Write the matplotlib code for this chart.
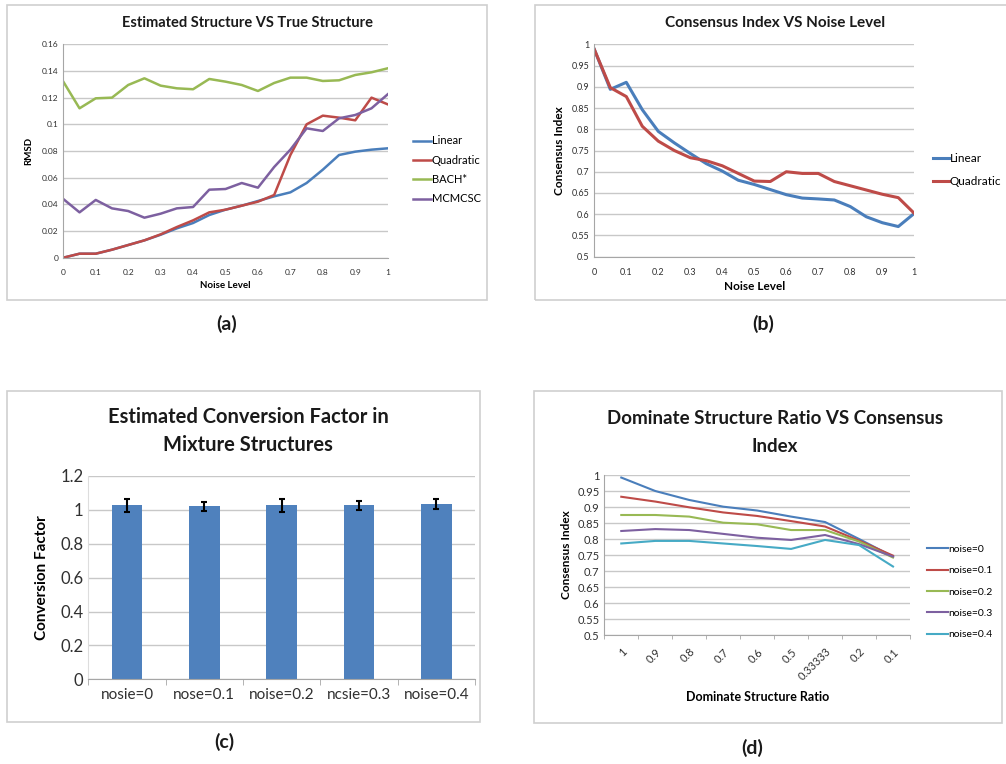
import matplotlib
matplotlib.use("Agg")
import matplotlib.pyplot as plt
from matplotlib.patches import Rectangle

plt.rcParams["font.family"] = ["Lato", "DejaVu Sans"]

# ---- data ----
noise = [0, 0.05, 0.1, 0.15, 0.2, 0.25, 0.3, 0.35, 0.4, 0.45, 0.5,
         0.55, 0.6, 0.65, 0.7, 0.75, 0.8, 0.85, 0.9, 0.95, 1.0]

rmsd_linear = [0, 0.003, 0.003, 0.006, 0.0095, 0.013, 0.0172, 0.022, 0.026, 0.032, 0.036,
               0.039, 0.0425, 0.046, 0.049, 0.056, 0.066, 0.077, 0.0795, 0.081, 0.082]
rmsd_quad = [0, 0.003, 0.003, 0.006, 0.0095, 0.013, 0.0175, 0.023, 0.028, 0.034, 0.036,
             0.039, 0.042, 0.047, 0.077, 0.1, 0.1065, 0.105, 0.103, 0.12, 0.115]
rmsd_bach = [0.132, 0.112, 0.1195, 0.120, 0.1295, 0.1345, 0.129, 0.127, 0.1263, 0.134, 0.132,
             0.1295, 0.125, 0.131, 0.135, 0.135, 0.1325, 0.133, 0.137, 0.139, 0.142]
rmsd_mcmcsc = [0.044, 0.034, 0.0433, 0.037, 0.035, 0.030, 0.033, 0.037, 0.038, 0.051, 0.0515,
               0.056, 0.0525, 0.068, 0.081, 0.097, 0.095, 0.1045, 0.107, 0.112, 0.1225]

ci_linear = [0.988, 0.894, 0.9105, 0.846, 0.795, 0.768, 0.743, 0.719, 0.7015, 0.680, 0.670,
             0.658, 0.646, 0.638, 0.636, 0.6335, 0.618, 0.594, 0.580, 0.571, 0.602]
ci_quad = [0.988, 0.898, 0.877, 0.807, 0.772, 0.750, 0.733, 0.726, 0.714, 0.696, 0.678,
           0.677, 0.700, 0.696, 0.696, 0.677, 0.667, 0.657, 0.647, 0.639, 0.602]

bar_labels = ["nosie=0", "nose=0.1", "noise=0.2", "ncsie=0.3", "noise=0.4"]
conv_factor = [1.027, 1.02, 1.027, 1.027, 1.035]
conv_err = [0.04, 0.027, 0.04, 0.025, 0.03]

ratio_labels = ["1", "0.9", "0.8", "0.7", "0.6", "0.5", "0.33333", "0.2", "0.1"]
d_noise0 = [0.992, 0.95, 0.922, 0.901, 0.889, 0.870, 0.853, 0.800, 0.745]
d_noise1 = [0.932, 0.917, 0.899, 0.883, 0.872, 0.856, 0.839, 0.795, 0.748]
d_noise2 = [0.875, 0.875, 0.870, 0.851, 0.846, 0.828, 0.828, 0.792, 0.742]
d_noise3 = [0.825, 0.831, 0.828, 0.816, 0.804, 0.797, 0.8125, 0.784, 0.745]
d_noise4 = [0.786, 0.794, 0.794, 0.786, 0.778, 0.769, 0.797, 0.781, 0.714]

BLUE = "#4A7EBB"
RED = "#BE4B48"
GREEN = "#98B954"
PURPLE = "#7D60A0"
CYAN = "#46AAC5"
GRID = "#C8C8C8"
TXT = "#303030"

W, H = 1006, 764
fig = plt.figure(figsize=(W / 100, H / 100), dpi=100)


def px_axes(x0, y0, x1, y1):
    return fig.add_axes([x0 / W, 1 - y1 / H, (x1 - x0) / W, (y1 - y0) / H])


def frame(x0, y0, x1, y1):
    fig.patches.append(Rectangle((x0 / W, 1 - y1 / H), (x1 - x0) / W, (y1 - y0) / H,
                                 transform=fig.transFigure, fill=False,
                                 edgecolor="#CFCFCF", lw=1.2))


def style(ax, tick_size):
    ax.yaxis.grid(True, color=GRID, lw=1)
    ax.set_axisbelow(True)
    for s in ["top", "right"]:
        ax.spines[s].set_visible(False)
    for s in ["left", "bottom"]:
        ax.spines[s].set_color("#A6A6A6")
    ax.tick_params(length=0, labelsize=tick_size, colors=TXT)


def fig_text(x, y, s, size, **kw):
    fig.text(x / W, 1 - y / H, s, fontsize=size, ha="center", va="center",
             fontweight="bold", color="#1A1A1A", **kw)


# ---- (a) ----
frame(7, 5, 487, 300)
ax = px_axes(63.3, 44.3, 387.7, 257.7)
ax.plot(noise, rmsd_linear, color=BLUE, lw=1.8, label="Linear")
ax.plot(noise, rmsd_quad, color=RED, lw=1.8, label="Quadratic")
ax.plot(noise, rmsd_bach, color=GREEN, lw=1.8, label="BACH*")
ax.plot(noise, rmsd_mcmcsc, color=PURPLE, lw=1.8, label="MCMCSC")
ax.set_xlim(0, 1)
ax.set_ylim(0, 0.16)
ax.set_xticks([i / 10 for i in range(11)])
ax.set_xticklabels(["0", "0.1", "0.2", "0.3", "0.4", "0.5", "0.6", "0.7", "0.8", "0.9", "1"])
ax.set_yticks([0, 0.02, 0.04, 0.06, 0.08, 0.1, 0.12, 0.14, 0.16])
ax.set_yticklabels(["0", "0.02", "0.04", "0.06", "0.08", "0.1", "0.12", "0.14", "0.16"])
style(ax, 6)
ax.tick_params(axis="x", pad=8)
ax.set_xlabel("Noise Level", fontsize=7, fontweight="bold", labelpad=4)
ax.set_ylabel("RMSD", fontsize=7, fontweight="bold", labelpad=6)
ax.legend(loc="center left", bbox_to_anchor=(403 / W, 1 - 170 / H),
          bbox_transform=fig.transFigure, frameon=False, fontsize=8,
          handlelength=1.6, handletextpad=0.1, labelspacing=0.75)
fig_text(248, 23, "Estimated Structure VS True Structure", 10.5)
fig_text(227, 324, "(a)", 14)

# ---- (b) ----
frame(535, 5, 1010, 300)
ax = px_axes(594.3, 44.3, 914.3, 256.7)
ax.plot(noise, ci_linear, color=BLUE, lw=2.2, label="Linear")
ax.plot(noise, ci_quad, color=RED, lw=2.2, label="Quadratic")
ax.set_xlim(0, 1)
ax.set_ylim(0.5, 1)
ax.set_xticks([i / 10 for i in range(11)])
ax.set_xticklabels(["0", "0.1", "0.2", "0.3", "0.4", "0.5", "0.6", "0.7", "0.8", "0.9", "1"])
ax.set_yticks([0.5, 0.55, 0.6, 0.65, 0.7, 0.75, 0.8, 0.85, 0.9, 0.95, 1])
ax.set_yticklabels(["0.5", "0.55", "0.6", "0.65", "0.7", "0.75", "0.8", "0.85", "0.9", "0.95", "1"])
style(ax, 6.5)
ax.tick_params(axis="x", pad=8)
ax.set_xlabel("Noise Level", fontsize=8.5, fontweight="bold", labelpad=3)
ax.set_ylabel("Consensus Index", fontsize=8.5, fontweight="bold", labelpad=5)
ax.legend(loc="center left", bbox_to_anchor=(922 / W, 1 - 170 / H),
          bbox_transform=fig.transFigure, frameon=False, fontsize=8.5,
          handlelength=1.4, handletextpad=0.05, labelspacing=1.0)
fig_text(775, 23, "Consensus Index VS Noise Level", 11)
fig_text(763, 324, "(b)", 14)

# ---- (c) ----
frame(7, 391, 480, 722)
ax = px_axes(88.3, 476, 475, 679.3)
xs = list(range(len(bar_labels)))
ax.bar(xs, conv_factor, width=0.4, color="#4F81BD", zorder=2)
ax.errorbar(xs, conv_factor, yerr=conv_err, fmt="none", ecolor="black",
            elinewidth=1.5, capsize=2.5, capthick=1.5, zorder=3)
ax.set_xlim(-0.5, 4.5)
ax.set_ylim(0, 1.2)
ax.set_xticks(xs)
ax.set_xticklabels(bar_labels)
ax.set_yticks([0, 0.2, 0.4, 0.6, 0.8, 1, 1.2])
ax.set_yticklabels(["0", "0.2", "0.4", "0.6", "0.8", "1", "1.2"])
style(ax, 12)
ax.spines["left"].set_color("#DDDDDD")
ax.tick_params(axis="x", labelsize=11, pad=6)
ax.set_xticks([-0.5, 0.5, 1.5, 2.5, 3.5, 4.5], minor=True)
ax.tick_params(axis="x", which="minor", length=4, color="#A6A6A6", direction="out")
ax.set_ylabel("Conversion Factor", fontsize=11, fontweight="bold", labelpad=8)
fig_text(248, 417, "Estimated Conversion Factor in", 14.5)
fig_text(248, 445, "Mixture Structures", 14.5)
fig_text(224, 742, "(c)", 14)

# ---- (d) ----
frame(534, 391, 1002, 723)
ax = px_axes(604.3, 475, 910, 635)
cx = list(range(len(ratio_labels)))
ax.plot(cx, d_noise0, color=BLUE, lw=1.5, label="noise=0")
ax.plot(cx, d_noise1, color=RED, lw=1.5, label="noise=0.1")
ax.plot(cx, d_noise2, color=GREEN, lw=1.5, label="noise=0.2")
ax.plot(cx, d_noise3, color=PURPLE, lw=1.5, label="noise=0.3")
ax.plot(cx, d_noise4, color=CYAN, lw=1.5, label="noise=0.4")
ax.set_xlim(-0.5, 8.5)
ax.set_ylim(0.5, 1)
ax.set_xticks(cx)
ax.set_xticklabels(ratio_labels, rotation=45, ha="right", rotation_mode="anchor")
ax.set_yticks([0.5, 0.55, 0.6, 0.65, 0.7, 0.75, 0.8, 0.85, 0.9, 0.95, 1])
ax.set_yticklabels(["0.5", "0.55", "0.6", "0.65", "0.7", "0.75", "0.8", "0.85", "0.9", "0.95", "1"])
style(ax, 8)
ax.tick_params(axis="x", pad=8)
ax.set_xticks([i - 0.5 for i in range(10)], minor=True)
ax.tick_params(axis="x", which="minor", length=3, color="#A6A6A6", direction="out")
ax.set_xlabel("Dominate Structure Ratio", fontsize=9, fontweight="bold", labelpad=6)
ax.set_ylabel("Consensus Index", fontsize=8.5, fontweight="bold", labelpad=4)
ax.legend(loc="center left", bbox_to_anchor=(918 / W, 1 - 592 / H),
          bbox_transform=fig.transFigure, frameon=False, fontsize=7.5,
          handlelength=2.0, handletextpad=0.05, labelspacing=1.15)
fig_text(775, 418, "Dominate Structure Ratio VS Consensus", 13.5)
fig_text(775, 447, "Index", 13.5)
fig_text(752, 748, "(d)", 14)

fig.savefig("out.png", dpi=100)
